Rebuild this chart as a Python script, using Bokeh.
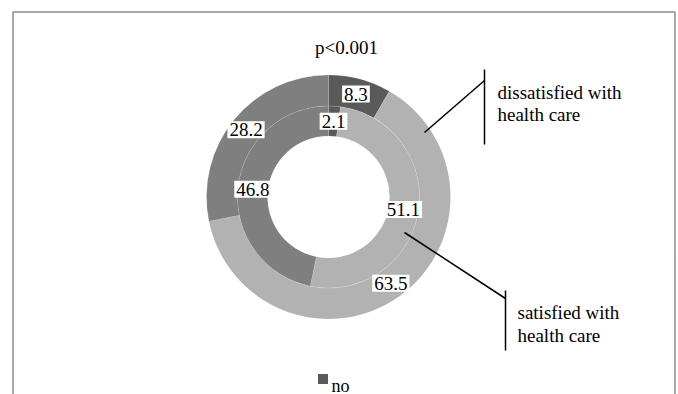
import numpy as np
from bokeh.plotting import figure
from bokeh.models import Range1d, ColumnDataSource
from bokeh.core.properties import value
from bokeh.embed import file_html
from bokeh.resources import INLINE

# Shares (%) per ring, clockwise from 12 o'clock
outer_values = [8.3, 63.5, 28.2]   # dissatisfied with health care
inner_values = [2.1, 51.1, 46.8]   # satisfied with health care
segment_colors = ["#5a5a5a", "#b2b2b2", "#7f7f7f"]
legend_labels = ["no"]
title_text = "p<0.001"
outer_caption = ["dissatisfied with", "health care"]
inner_caption = ["satisfied with", "health care"]

W, H = 678, 394
FONT = "Liberation Serif"

# donut geometry (pixels; y measured from the bottom)
cx, cy = 328.0, H - 196.5
r_hole, r_mid, r_outer = 61.0, 91.0, 122.0


def ring(values, r0, r1):
    vals = np.asarray(values, dtype=float)
    cum = np.concatenate([[0.0], np.cumsum(vals)])
    start = np.pi / 2 - 2 * np.pi * cum[:-1] / 100.0
    end = np.pi / 2 - 2 * np.pi * cum[1:] / 100.0
    mid = (start + end) / 2
    rl = (r0 + r1) / 2
    return ColumnDataSource(dict(
        x=[cx] * len(vals), y=[cy] * len(vals),
        start=start, end=end, color=segment_colors[:len(vals)],
        lx=cx + rl * np.cos(mid), ly=cy + rl * np.sin(mid),
        txt=[f"{v:.1f}" for v in vals],
    ))


p = figure(width=W, height=H, x_range=Range1d(0, W), y_range=Range1d(0, H),
           x_axis_location=None, y_axis_location=None,
           toolbar_location=None, output_backend="svg", min_border=0)
p.grid.visible = False
p.outline_line_color = None
p.background_fill_color = "white"
p.border_fill_color = "white"

# chart area frame
p.quad(left=[12.5], right=[674.5], top=[H - 11.5], bottom=[-20],
       fill_color=None, line_color="#8c8c8c", line_width=1.5)

outer_src = ring(outer_values, r_mid, r_outer)
inner_src = ring(inner_values, r_hole, r_mid)
for src, r0, r1 in ((outer_src, r_mid, r_outer), (inner_src, r_hole, r_mid)):
    p.annular_wedge(x="x", y="y", inner_radius=r0, outer_radius=r1,
                    start_angle="start", end_angle="end", direction="clock",
                    fill_color="color", line_color="white", line_alpha=0.15,
                    line_width=0.75, source=src)

for src in (outer_src, inner_src):
    p.text(x="lx", y="ly", text="txt", source=src,
           text_font=value(FONT), text_font_size="19px", text_color="black",
           text_align="center", text_baseline="middle",
           background_fill_color="white", padding=2)

# title
p.text(x=[346], y=[H - 47], text=[title_text], text_font=value(FONT),
       text_font_size="19px", text_color="black", text_align="center",
       text_baseline="alphabetic")

# callouts
p.segment(x0=[424, 484], y0=[H - 132, H - 69], x1=[484, 484], y1=[H - 80, H - 144],
          line_color="black", line_width=1.5)
p.segment(x0=[404, 505], y0=[H - 232, H - 290], x1=[505, 505], y1=[H - 298, H - 350],
          line_color="black", line_width=1.5)
p.text(x=[497, 497], y=[H - 92, H - 114], text=outer_caption, text_font=value(FONT),
       text_font_size="19px", text_color="black", text_align="left",
       text_baseline="alphabetic")
p.text(x=[517, 517], y=[H - 312, H - 335], text=inner_caption, text_font=value(FONT),
       text_font_size="19px", text_color="black", text_align="left",
       text_baseline="alphabetic")

# legend
p.rect(x=[322.5], y=[H - 378.5], width=10, height=10,
       fill_color=segment_colors[0], line_color=None)
p.text(x=[331], y=[H - 385], text=legend_labels, text_font=value(FONT),
       text_font_size="18px", text_color="black", text_align="left",
       text_baseline="alphabetic")

open("out.html", "w").write(file_html(p, INLINE))
